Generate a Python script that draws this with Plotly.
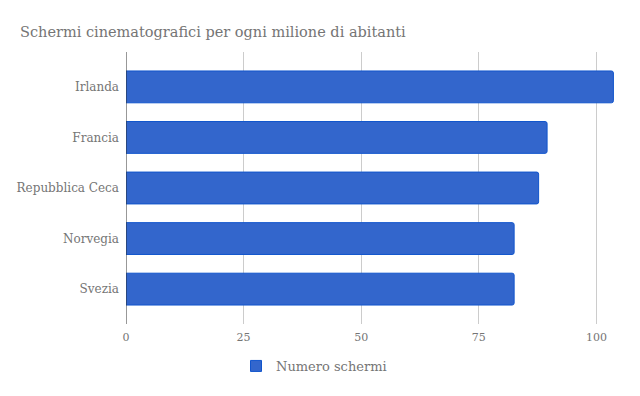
import plotly.graph_objects as go

paesi = ["Irlanda", "Francia", "Repubblica Ceca", "Norvegia", "Svezia"]
schermi = [103.6, 89.5, 87.7, 82.5, 82.5]
tick_vals = [0, 25, 50, 75, 100]
tick_text = ["0", "25", "50", "75", "100"]

FONT = "DejaVu Serif"
GREY = "#757575"
W, H = 632, 388  # page adds an 8px body margin

fig = go.Figure()
fig.add_trace(go.Bar(
    y=paesi, x=schermi, orientation="h", name="Numero schermi", showlegend=False,
    marker=dict(color="#3366cc", line=dict(color="#1155cc", width=1), cornerradius=2),
))
fig.add_trace(go.Scatter(
    x=[None], y=[None], mode="markers", name="Numero schermi",
    marker=dict(symbol="square", size=11, color="#3366cc", line=dict(color="#1155cc", width=1)),
))

fig.update_layout(
    width=W, height=H,
    margin=dict(l=118, r=20, t=44, b=72, autoexpand=False),
    paper_bgcolor="white", plot_bgcolor="white",
    title=dict(text="Schermi cinematografici per ogni milione di abitanti",
               x=12 / W, xref="container", xanchor="left", y=1 - 24 / H, yanchor="middle",
               font=dict(family=FONT, size=14.5, color=GREY)),
    bargap=0.37,
    showlegend=True,
    legend=dict(orientation="h", xref="container", yref="container", x=306 / W, xanchor="center",
                y=1 - 358 / H, yanchor="middle", itemwidth=30,
                font=dict(family=FONT, size=13, color=GREY)),
    font=dict(family=FONT, color=GREY),
)
fig.update_xaxes(range=[0, 105], tickvals=tick_vals, ticktext=tick_text, automargin=False,
                 showgrid=True, gridcolor="#cccccc", gridwidth=1, zeroline=False,
                 showline=False, ticks="", ticklabelstandoff=5,
                 tickfont=dict(family=FONT, size=11, color=GREY))
fig.update_yaxes(categoryorder="array", categoryarray=paesi, range=[4.69, -0.69], automargin=False,
                 showgrid=False, zeroline=False, ticks="", showline=False, ticklabelstandoff=6,
                 tickfont=dict(family=FONT, size=12, color=GREY))
fig.add_shape(type="line", xref="x", yref="paper", x0=0, x1=0, y0=0, y1=1,
              line=dict(color="#333333", width=1))
fig.write_html("out.html")
